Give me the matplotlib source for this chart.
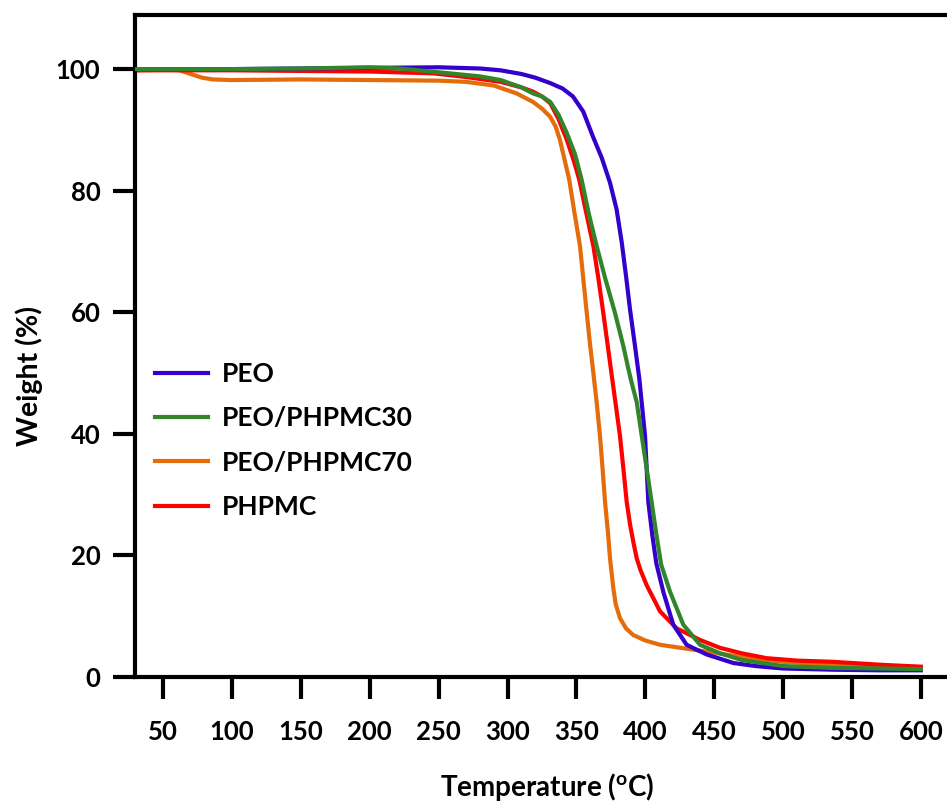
import matplotlib
matplotlib.use("Agg")
import matplotlib.pyplot as plt

plt.rcParams['font.family'] = ['Lato', 'DejaVu Sans']
plt.rcParams['font.weight'] = 'bold'
plt.rcParams['mathtext.fontset'] = 'custom'
plt.rcParams['mathtext.rm'] = 'Lato:bold'
plt.rcParams['mathtext.it'] = 'Lato:bold'
plt.rcParams['mathtext.bf'] = 'Lato:bold'

# ---- data ----
peo_T = [30, 100, 150, 200, 250, 280, 295, 310, 320, 331, 340, 347.5, 355, 362, 368.4, 374.4,
         379.2, 382.9, 386, 388.9, 392.5, 395.7, 399.8, 402.2, 405, 408, 413.1, 420.3, 430,
         444.6, 464, 480, 500, 536, 570, 600]
peo_W = [100, 100, 100.1, 100.2, 100.3, 100.1, 99.8, 99.2, 98.6, 97.7, 96.8, 95.5, 93, 88.9,
         85.4, 81.3, 76.9, 71.5, 66, 60.5, 54.5, 49.0, 39.7, 28.8, 23.5, 18.7, 14.0, 8.6,
         5.3, 3.7, 2.3, 1.8, 1.4, 1.2, 1.1, 1.1]

p30_T = [30, 100, 150, 200, 222, 258, 280, 295, 310, 318.5, 325, 331, 337, 343, 349, 353.8,
         359, 364.7, 371, 378, 384, 387.7, 390, 393.8, 397.4, 401, 404.6, 408, 411.5, 418,
         427.6, 439.7, 454.2, 470, 500, 536, 570, 600]
p30_W = [100, 100, 100.1, 100.3, 100.1, 99.3, 98.8, 98.2, 97, 96, 95.5, 94.6, 92.5, 89.5,
         86, 81.8, 76.2, 70.9, 65.5, 59.9, 54.5, 50.7, 48.5, 45.2, 39.7, 34.3, 28.8, 23.5,
         18.5, 14.0, 8.6, 5.3, 3.9, 2.8, 1.8, 1.5, 1.4, 1.3]

p70_T = [30, 55, 62, 70, 78, 86, 100, 150, 200, 250, 270, 290, 306.6, 318.5, 325, 330.8,
         335, 338, 341.5, 344.8, 348.5, 352.6, 355, 357.5, 360, 362.3, 364.8, 367.1, 369,
         370.8, 373, 374.4, 376.8, 378.5, 381.6, 386, 391.3, 400, 410.7, 434.6, 450, 470,
         500, 550, 600]
p70_W = [99.8, 99.9, 99.8, 99.2, 98.6, 98.3, 98.2, 98.3, 98.2, 98.1, 97.9, 97.3, 96, 94.6,
         93.5, 92.2, 90.5, 88.4, 85, 81.8, 76.5, 70.9, 65.5, 59.9, 54.5, 50.0, 45, 39.7,
         34.3, 28.8, 23.5, 19.5, 14.6, 12, 9.7, 8, 6.9, 6.0, 5.3, 4.5, 4.0, 3.3, 2.5, 1.8,
         1.5]

phpmc_T = [30, 100, 150, 200, 246, 270, 295, 310, 318.5, 325, 331, 337, 343, 348, 352.1,
           357, 362.3, 366, 369.5, 372.5, 375.6, 378.5, 381.6, 384, 386.5, 389, 391.5, 393.8,
           396.5, 401, 410.7, 422.8, 439.7, 454.2, 470, 488, 510, 536, 572, 600]
phpmc_W = [99.8, 99.8, 99.7, 99.6, 99.3, 98.7, 97.9, 97, 96.3, 95.5, 94.4, 91.8, 88.4, 85,
           81.8, 76.5, 70.9, 65.5, 59.9, 54.9, 49.7, 44.9, 39.7, 34.5, 28.8, 25, 22, 19.5,
           17.6, 15.1, 10.8, 8.0, 6.1, 4.8, 3.9, 3.1, 2.7, 2.5, 2.0, 1.7]

labels = ['PEO', 'PEO/PHPMC30', 'PEO/PHPMC70', 'PHPMC']
colors = ['#3300CC', '#31852B', '#E46C0A', '#FF0000']
x_ticks = [50, 100, 150, 200, 250, 300, 350, 400, 450, 500, 550, 600]
y_ticks = [0, 20, 40, 60, 80, 100]

fig = plt.figure(figsize=(9.47, 8.02), dpi=100)
ax = fig.add_axes([135/947, 1-677/802, 1-135/947, (677-15)/802])

lw = 3
h_peo, = ax.plot(peo_T, peo_W, color=colors[0], lw=lw, zorder=3, label=labels[0])
h_70, = ax.plot(p70_T, p70_W, color=colors[2], lw=lw, zorder=1, label=labels[2])
h_ph, = ax.plot(phpmc_T, phpmc_W, color=colors[3], lw=lw, zorder=2, label=labels[3])
h_30, = ax.plot(p30_T, p30_W, color=colors[1], lw=lw, zorder=4, label=labels[1])

ax.set_xlim(29.6, 619)
ax.set_ylim(0, 108.9)
ax.set_xticks(x_ticks)
ax.set_yticks(y_ticks)

for s in ['left', 'bottom', 'top']:
    ax.spines[s].set_linewidth(3)
ax.spines['right'].set_visible(False)

ax.tick_params(axis='x', direction='out', length=16, width=3, pad=15, labelsize=18.5)
ax.tick_params(axis='y', direction='out', length=16, width=3, pad=9, labelsize=18.5)
for t in ax.get_xticklabels() + ax.get_yticklabels():
    t.set_fontweight('bold')

ax.set_xlabel('Temperature ($^{o}$C)', fontsize=20, fontweight='bold')
ax.xaxis.set_label_coords((547-135)/812, (677-771)/662)
ax.set_ylabel('Weight (%)', fontsize=20.5, fontweight='bold')
ax.yaxis.set_label_coords((43-135)/812, (677-376)/662)

leg = ax.legend(handles=[h_peo, h_30, h_70, h_ph], loc='upper left',
                bbox_to_anchor=((155-135)/812, (677-362)/662), frameon=False,
                borderpad=0, borderaxespad=0, handlelength=2.0, handletextpad=0.55,
                labelspacing=0.77, prop={'size': 19, 'weight': 'bold'})

fig.savefig('out.png', dpi=100, facecolor='white')
